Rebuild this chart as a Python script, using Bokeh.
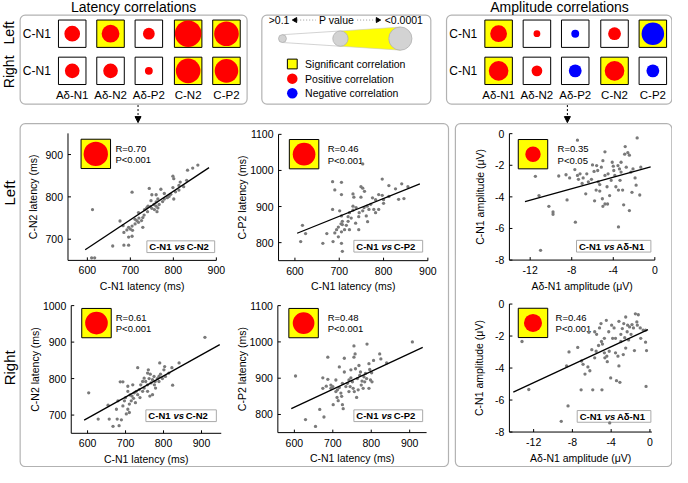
import numpy as np
from bokeh.plotting import figure
from bokeh.models import Range1d, BoxAnnotation, Arrow, NormalHead
from bokeh.embed import file_html
from bokeh.resources import INLINE
from bokeh.core.properties import value

FONT = "Liberation Sans"
RED, BLUE, YEL = "#ff0000", "#0000ff", "#ffff00"
PT = "#7a7a7a"

# ---------------- data ----------------
components = ["Aδ-N1", "Aδ-N2", "Aδ-P2", "C-N2", "C-P2"]
# strength of correlation (-log10 P)
lat_left_nlp = [2.5, 2.9, 1.75, 4.55, 4.2]
lat_right_nlp = [2.3, 2.3, 1.0, 4.2, 4.0]
lat_left_sig = [0, 1, 0, 1, 1]
lat_right_sig = [0, 0, 0, 1, 1]
lat_left_sign = [1, 1, 1, 1, 1]
lat_right_sign = [1, 1, 1, 1, 1]
amp_left_nlp = [2.7, 0.8, 1.0, 1.95, 3.8]
amp_right_nlp = [3.25, 1.55, 1.95, 3.25, 1.95]
amp_left_sig = [1, 0, 0, 0, 1]
amp_right_sig = [1, 0, 0, 1, 0]
amp_left_sign = [1, 1, -1, 1, -1]
amp_right_sign = [1, 1, -1, 1, -1]

r_text = ["R=0.70", "R=0.46", "R=0.35", "R=0.61", "R=0.48", "R=0.46"]
p_text = ["P<0.001", "P<0.001", "P<0.05", "P<0.001", "P<0.001", "P<0.001"]
pair_a = ["C-N1", "C-N1", "C-N1", "C-N1", "C-N1", "C-N1"]
pair_b = ["C-N2", "C-P2", "Aδ-N1", "C-N2", "C-P2", "Aδ-N1"]

# Left, C-N1 vs C-N2 latency
s1_x = [612, 610, 617, 659, 685, 696, 676, 704, 744, 771, 799, 833, 845, 857, 813, 799, 779, 786, 801, 764,
        750, 760, 685, 692, 696, 700, 704, 705, 711, 715, 719, 726, 729, 720, 733, 738, 741, 747, 750, 755,
        756, 760, 762, 764, 767, 760, 748, 775, 779, 790, 794, 805, 813, 824, 801, 816, 831, 729, 719, 711,
        683, 696, 704, 732, 740]
s1_y = [770, 656, 656, 684, 686, 686, 743, 811, 820, 818, 849, 863, 868, 875, 827, 822, 808, 798, 795, 795,
        805, 805, 716, 722, 728, 724, 731, 721, 736, 744, 740, 744, 751, 750, 770, 774, 778, 777, 773, 782,
        770, 778, 765, 774, 782, 788, 791, 789, 795, 801, 806, 812, 816, 824, 843, 835, 839, 728, 763, 747,
        732, 705, 707, 757, 765]
s1_fit_x = [595, 883]
s1_fit_y = [675, 869]

# Left, C-N1 vs C-P2 latency
s2_x = [753, 685, 705, 690, 705, 731, 733, 749, 753, 757, 749, 797, 812, 827, 841, 834, 846, 855, 800, 800,
        789, 782, 775, 771, 763, 767, 778, 789, 761, 764, 753, 745, 756, 738, 731, 731, 723, 727, 720, 737,
        744, 716, 723, 712, 701, 705, 707, 704, 698, 694, 690, 698, 705, 685, 707, 705, 707, 686, 663, 672,
        613, 617, 624, 720, 744, 782, 797, 812]
s2_y = [1018, 969, 967, 946, 933, 935, 926, 955, 951, 942, 926, 976, 958, 949, 963, 920, 922, 955, 919, 909,
        933, 919, 924, 906, 901, 892, 892, 892, 874, 858, 888, 883, 897, 897, 890, 901, 883, 868, 859, 854,
        836, 848, 836, 836, 888, 874, 859, 852, 843, 836, 827, 816, 830, 892, 850, 798, 776, 803, 798, 825,
        803, 848, 825, 872, 872, 883, 931, 928]
s2_fit_x = [605, 882]
s2_fit_y = [826, 963]

# Left, C-N1 vs Ad-N1 amplitude
s3_x = [-11.0, -11.5, -11.15, -10.2, -9.8, -9.8, -9.25, -8.55, -8.45, -8.2, -7.65, -7.45, -7.7, -7.45, -7.35,
        -7.2, -7.0, -6.9, -6.55, -6.65, -6.4, -6.1, -6.0, -5.85, -5.8, -5.6, -5.5, -5.45, -5.3, -5.3, -5.15,
        -5.0, -4.8, -5.05, -5.0, -4.8, -4.55, -4.6, -4.35, -4.5, -4.1, -4.0, -3.85, -3.75, -3.55, -3.5, -3.4,
        -3.35, -3.25, -3.25, -3.1, -3.5, -2.9, -2.85, -2.75, -2.6, -2.45, -3.0, -2.45, -2.3, -2.2, -2.1, -1.9,
        -1.8, -1.7, -1.45, -1.35, -4.8, -4.2, -5.65, -3.95]
s3_y = [-7.38, -2.7, -3.92, -4.6, -4.95, -5.1, -2.68, -2.6, -4.19, -2.8, -5.6, -0.41, -2.27, -2.64, -2.89,
        -2.54, -3.15, -2.8, -2.54, -3.81, -3.05, -2.89, -1.98, -2.39, -4.25, -2.02, -2.33, -3.05, -3.22, -3.63,
        -2.12, -1.71, -1.15, -4.12, -4.6, -4.45, -4.45, -3.36, -3.92, -2.54, -1.81, -2.06, -2.64, -3.36, -2.02,
        -3.57, -2.23, -2.95, -2.43, -1.81, -3.57, -5.9, -1.3, -0.82, -2.12, -1.2, -1.36, -4.5, -4.87, -2.43,
        -3.71, -2.23, -2.8, -3.26, -0.27, -3.88, -2.12, -2.64, -2.95, -3.57, -2.33]
s3_fit_x = [-12.5, -0.4]
s3_fit_y = [-4.3, -2.1]

# Right, C-N1 vs C-N2 latency
s4_x = [909, 603, 628, 654, 657, 667, 683, 678, 689, 686, 693, 676, 680, 693, 700, 702, 706, 710, 715, 717,
        721, 723, 726, 732, 706, 712, 728, 732, 736, 738, 745, 749, 753, 758, 760, 765, 762, 767, 771, 775,
        778, 779, 784, 788, 790, 792, 797, 801, 803, 805, 745, 740, 749, 758, 764, 771, 776, 788, 758, 822,
        841, 824, 814, 710, 697, 719, 706]
s4_y = [913, 761, 689, 727, 689, 669, 671, 689, 687, 791, 791, 716, 739, 725, 748, 703, 716, 730, 739, 752,
        746, 761, 734, 830, 779, 755, 765, 756, 770, 748, 765, 774, 792, 783, 824, 812, 800, 788, 797, 806,
        792, 774, 800, 806, 843, 812, 800, 824, 833, 806, 792, 783, 801, 765, 752, 756, 783, 792, 815, 830,
        843, 782, 815, 707, 739, 783, 765]
s4_fit_x = [591, 948]
s4_fit_y = [686, 893]

# Right, C-N1 vs C-P2 latency
s5_x = [907, 603, 629, 655, 666, 677, 687, 674, 687, 674, 683, 695, 700, 695, 701, 708, 711, 712, 717, 721,
        723, 725, 725, 727, 714, 730, 717, 730, 738, 742, 745, 751, 753, 755, 758, 759, 764, 768, 772, 774,
        762, 776, 781, 785, 788, 789, 794, 796, 798, 801, 802, 806, 822, 825, 840, 794, 779, 766, 747, 734,
        770, 742, 756, 783, 755, 747, 708]
s5_y = [1000, 906, 786, 767, 814, 793, 958, 901, 897, 872, 878, 881, 877, 872, 827, 863, 847, 868, 874, 859,
        850, 886, 827, 816, 838, 955, 931, 917, 886, 895, 877, 890, 872, 989, 967, 926, 899, 935, 917, 881,
        847, 892, 904, 913, 899, 994, 940, 924, 895, 915, 890, 949, 967, 953, 942, 872, 872, 868, 901, 877,
        908, 863, 863, 890, 958, 923, 895]
s5_fit_x = [592, 934]
s5_fit_y = [816, 985]

# Right, C-N1 vs Ad-N1 amplitude
s6_x = [-13.2, -12.5, -9.15, -8.6, -8.45, -8.35, -7.1, -7.05, -6.9, -6.7, -7.45, -6.4, -6.3, -6.2, -6.0,
        -5.9, -5.7, -5.7, -5.5, -5.2, -5.05, -5.0, -4.95, -4.9, -4.7, -4.65, -4.5, -4.45, -4.4, -4.25, -4.2,
        -4.05, -4.15, -3.95, -3.85, -3.7, -3.55, -3.45, -3.3, -3.2, -3.1, -3.0, -3.0, -2.85, -2.75, -2.7, -2.6,
        -2.5, -2.35, -2.3, -2.2, -2.1, -1.95, -1.85, -1.7, -1.6, -1.5, -1.35, -1.3, -1.2, -1.0, -0.95, -0.7,
        -0.45, -0.45, -0.35, -0.4, -5.3, -5.55, -3.2, -2.5, -4.7, -3.55]
s6_y = [-2.34, -5.34, -7.33, -3.87, -6.37, -2.99, -5.36, -3.56, -3.77, -4.38, -2.71, -3.93, -1.77, -4.17,
        -2.85, -5.36, -3.36, -1.73, -1.89, -1.49, -1.22, -2.34, -5.36, -2.5, -3.05, -3.36, -1.02, -3.26, -3.6,
        -1.73, -2.95, -4.62, -7.43, -1.32, -2.14, -1.49, -3.05, -4.79, -3.26, -1.08, -4.89, -2.34, -1.89,
        -1.53, -3.16, -1.22, -2.1, -2.75, -1.73, -1.32, -2.24, -1.43, -1.89, -1.28, -1.49, -2.91, -0.61, -1.12,
        -1.32, -0.67, -1.49, -2.14, -1.63, -2.38, -1.63, -2.91, -5.15, -2.59, -2.95, -3.87, -0.81, -2.14, -2.14]
s6_fit_x = [-14.1, -0.2]
s6_fit_y = [-5.5, -1.6]

lat_xticks = [600, 700, 800, 900]
amp_xticks = [-12, -8, -4, 0]
amp_yticks = [-8, -6, -4, -2, 0]
lat_label = "C-N1 latency (ms)"
amp_label = "Aδ-N1 amplitude (μV)"

# ---------------- canvas ----------------
W, H = 672, 467
IX0, IX1, IY0, IY1 = 2, 686, 1, 479
SX = W / (IX1 - IX0)
SY = H / (IY1 - IY0)

p = figure(width=W, height=H, x_range=Range1d(IX0, IX1), y_range=Range1d(IY1, IY0),
           output_backend="svg", toolbar_location=None, min_border=0, title=None,
           x_axis_location=None, y_axis_location=None, outline_line_color=None)
p.grid.visible = False


def diam(nlp):
    return 8 + (nlp - 1) * 16.0 / 3.0


def txt(x, y, t, size="11px", align="center", style="normal", angle=0.0, **kw):
    p.text(x=x, y=y, text=t, text_font=value(FONT), text_font_size=size, text_align=align,
           text_baseline="middle", text_font_style=style, angle=angle, text_color="black", **kw)


# boxes
for l, r, t, b in [(22, 253, 16, 107), (268, 440, 16, 107), (456, 685.3, 16, 107),
                   (22, 458, 127, 478), (465, 685.3, 127, 478)]:
    p.add_layout(BoxAnnotation(left=l, right=r, top=t, bottom=b, fill_color=None,
                               line_color="black", line_width=1.2, border_radius=5))

# arrows
for ax_ in [142, 579]:
    p.add_layout(Arrow(end=NormalHead(size=6, fill_color="black", line_color="black"),
                       x_start=ax_, y_start=108, x_end=ax_, y_end=126,
                       line_dash="2 2", line_width=1))

# titles & side labels
txt([137.5, 571], [7.5, 7.5], ["Latency correlations", "Amplitude correlations"], size="14px")
txt([11, 11], [34, 74], ["Left", "Right"], size="14px", angle=np.pi / 2)
txt([11.5, 11.5], [198, 377], ["Left", "Right"], size="15px", angle=np.pi / 2)

# matrices
offs = [53, 92, 131, 171, 210]
rows_y = [35, 73]
for bx, rows in [(22, [(lat_left_nlp, lat_left_sig, lat_left_sign), (lat_right_nlp, lat_right_sig, lat_right_sign)]),
                 (456, [(amp_left_nlp, amp_left_sig, amp_left_sign), (amp_right_nlp, amp_right_sig, amp_right_sign)])]:
    cx = [bx + o for o in offs]
    for ry, (nlp, sig, sign) in zip(rows_y, rows):
        p.rect(x=cx, y=[ry] * 5, width=28, height=28,
               fill_color=[YEL if s else "white" for s in sig], line_color="black", line_width=1)
        p.scatter(x=cx, y=[ry] * 5, size=[diam(v) * SX for v in nlp], marker="circle",
                  fill_color=[RED if s > 0 else BLUE for s in sign], line_color=None)
    txt([bx + 17] * 2, rows_y, ["C-N1", "C-N1"], size="12px")
    txt(cx, [97.5] * 5, components, size="11.5px")

# legend panel
txt([275], [21], [">0.1"], size="10.5px", align="left")
txt([344], [21], ["P value"], size="10.5px")
txt([432], [21], ["<0.0001"], size="10.5px", align="right")
p.segment(x0=[304, 365], y0=[21, 21], x1=[323, 384], y1=[21, 21], line_color="#999999",
          line_dash="1 2", line_width=1)
p.scatter(x=[302, 386], y=[21, 21], marker="triangle", size=5, angle=[np.pi / 2, -np.pi / 2],
          fill_color="black", line_color="black")
r_small, r_mid, r_big = 4, 7.8, 11.8
c_small, c_mid, c_big, cy = 289, 348, 409, 40
p.patch(x=[c_small, c_mid, c_mid, c_small], y=[cy - r_small, cy - r_mid, cy + r_mid, cy + r_small],
        fill_color="white", line_color="#c8c8c8", line_width=0.8)
p.patch(x=[c_mid, c_big, c_big, c_mid], y=[cy - r_mid, cy - r_big, cy + r_big, cy + r_mid],
        fill_color=YEL, line_color="#c8c8c8", line_width=0.6)
p.scatter(x=[c_small, c_mid, c_big], y=[cy] * 3, size=[2 * r_small * SX, 2 * r_mid * SX, 2 * r_big * SX],
          marker="circle", fill_color="#d3d3d3", line_color="#b0b0b0", line_width=0.8)
p.rect(x=[299], y=[66], width=10, height=10, fill_color=YEL, line_color="black", line_width=1)
p.scatter(x=[299, 299], y=[81, 96], size=10.5, marker="circle", fill_color=[RED, BLUE], line_color=None)
txt([312] * 3, [66, 81, 96], ["Significant correlation", "Positive correlation", "Negative correlation"],
    size="10.5px", align="left")

# insets in scatter panels
inset_sq = [(99, 158), (311, 158.3), (544, 158.3), (99.7, 331.2), (310.5, 331.2), (544, 331)]
inset_tx = [119, 335, 569, 119.3, 335, 567]
inset_src = [lat_left_nlp[3], lat_left_nlp[4], amp_left_nlp[0], lat_right_nlp[3], lat_right_nlp[4], amp_right_nlp[0]]
p.rect(x=[s[0] for s in inset_sq], y=[s[1] for s in inset_sq], width=30, height=30,
       fill_color=YEL, line_color="black", line_width=1)
p.scatter(x=[s[0] for s in inset_sq], y=[s[1] for s in inset_sq],
          size=[diam(v) * 0.92 * SX for v in inset_src], marker="circle", fill_color=RED, line_color=None)
txt(inset_tx, [s[1] - 5.5 for s in inset_sq], r_text, size="9.5px", align="left")
txt(inset_tx, [s[1] + 6 for s in inset_sq], p_text, size="9.5px", align="left")

# pair labels
lab_box = [(151, 220, 253), (361.7, 431.7, 252.5), (588.3, 664, 252.5),
           (150, 221.7, 426), (361.7, 431.7, 426), (589, 664, 426.7)]
p.rect(x=[(a + b) / 2 for a, b, c in lab_box], y=[c for a, b, c in lab_box],
       width=[b - a for a, b, c in lab_box], height=12, fill_color="white", line_color="#aaaaaa", line_width=1)
lx = [a + 2.5 for a, b, c in lab_box]
ly = [c for a, b, c in lab_box]
txt(lx, ly, pair_a, size="9.5px", align="left", style="bold")
txt([v + 25.5 for v in lx], ly, ["vs"] * 6, size="9.5px", align="left", style="bold italic")
txt([v + 38 for v in lx], ly, pair_b, size="9.5px", align="left", style="bold")

# ---------------- scatter panels (own scales mapped into sub-frames) ----------------
xr_extra, yr_extra = {}, {}


def subplot(i, frame, xr, yr, xt, yt, xs, ys, fx, fy, xlabel, ylabel, ylab_off):
    fx0, fy0, fx1, fy1 = frame
    a = (fx0 - IX0) * SX
    b = (fx1 - IX0) * SX
    top = (fy0 - IY0) * SY
    bot = (fy1 - IY0) * SY
    kx = (xr[1] - xr[0]) / (b - a)
    yb, yt_ = H - bot, H - top
    ky = (yr[1] - yr[0]) / (yt_ - yb)
    xn, yn = f"x{i}", f"y{i}"
    xr_extra[xn] = Range1d(xr[0] - a * kx, xr[0] + (W - a) * kx)
    yr_extra[yn] = Range1d(yr[0] - yb * ky, yr[0] + (H - yb) * ky)
    kw = dict(x_range_name=xn, y_range_name=yn)
    # data
    p.scatter(xs, ys, size=3.3, marker="circle", fill_color=PT, line_color=None, **kw)
    p.line(fx, fy, line_color="black", line_width=1.3, **kw)
    # axes
    p.segment(x0=[xr[0], xr[0]], y0=[yr[0], yr[0]], x1=[xr[1], xr[0]], y1=[yr[0], yr[1]],
              line_color="black", line_width=1, **kw)
    p.segment(x0=xt, y0=[yr[0]] * len(xt), x1=xt, y1=[yr[0] + 3 * ky] * len(xt),
              line_color="black", line_width=1, **kw)
    p.segment(x0=[xr[0]] * len(yt), y0=yt, x1=[xr[0] + 3 * kx] * len(yt), y1=yt,
              line_color="black", line_width=1, **kw)
    txt(xt, [yr[0]] * len(xt), [str(v) for v in xt], size="10.5px", y_offset=10, **kw)
    txt([xr[0]] * len(yt), yt, [str(v) for v in yt], size="10.5px", align="right", x_offset=-5, **kw)
    txt([(xr[0] + xr[1]) / 2], [yr[0]], [xlabel], size="10.5px", y_offset=25.5, **kw)
    txt([xr[0]], [(yr[0] + yr[1]) / 2], [ylabel], size="10.5px", x_offset=-ylab_off, angle=np.pi / 2, **kw)


subplot(1, (70.7, 137, 221.7, 267), (555, 900), (650, 950), lat_xticks, [700, 800, 900],
        s1_x, s1_y, s1_fit_x, s1_fit_y, lat_label, "C-N2 latency (ms)", 35)
subplot(2, (285, 138, 437, 267.3), (563, 900), (750, 1100), lat_xticks, [800, 900, 1000, 1100],
        s2_x, s2_y, s2_fit_x, s2_fit_y, lat_label, "C-P2 latency (ms)", 37)
subplot(3, (520, 137.3, 668, 266.7), (-14, 0), (-8, 0), amp_xticks, amp_yticks,
        s3_x, s3_y, s3_fit_x, s3_fit_y, amp_label, "C-N1 amplitude (μV)", 29)
subplot(4, (74, 313.3, 226.7, 444), (557, 952), (650, 1000), lat_xticks, [700, 800, 900, 1000],
        s4_x, s4_y, s4_fit_x, s4_fit_y, lat_label, "C-N2 latency (ms)", 36)
subplot(5, (284.3, 313.3, 435.7, 443.3), (557, 944), (750, 1100), lat_xticks, [800, 900, 1000, 1100],
        s5_x, s5_y, s5_fit_x, s5_fit_y, lat_label, "C-P2 latency (ms)", 36)
subplot(6, (520, 311.7, 665, 442.7), (-14.5, 0.2), (-8, 0), amp_xticks, amp_yticks,
        s6_x, s6_y, s6_fit_x, s6_fit_y, amp_label, "C-N1 amplitude (μV)", 30)

p.extra_x_ranges = xr_extra
p.extra_y_ranges = yr_extra

open("out.html", "w").write(file_html(p, INLINE))
